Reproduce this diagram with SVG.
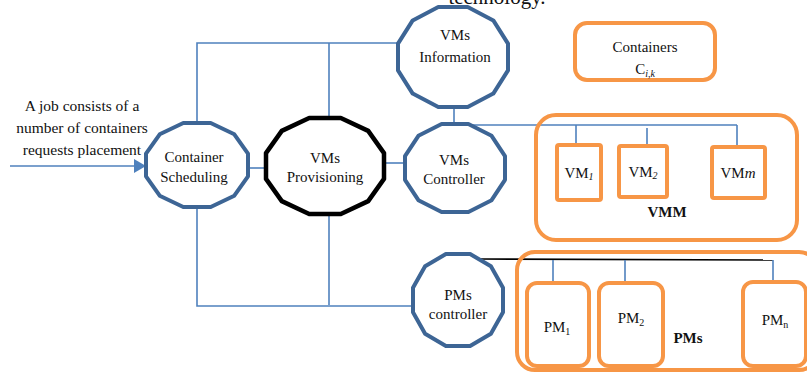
<svg xmlns="http://www.w3.org/2000/svg" width="807" height="372" viewBox="0 0 807 372">
<style>
  text { font-family: "Liberation Serif", "Times New Roman", serif; fill: #111; }
  .lbl { font-size: 15px; text-anchor: middle; }
  .oct { fill: #fff; stroke: #3d6595; stroke-width: 4; stroke-linejoin: round; }
  .octk { fill: #fff; stroke: #000; stroke-width: 4.5; stroke-linejoin: round; }
  .conn { fill: none; stroke: #4f81bd; stroke-width: 1.6; }
  .blk { fill: none; stroke: #000; stroke-width: 1.6; }
  .obox { fill: none; stroke: #f79646; stroke-width: 4; }
  .bold { font-weight: bold; }
  .sub { font-size: 10px; }
</style>
<defs>
  <marker id="arr" viewBox="0 0 12 14" refX="12" refY="7" markerWidth="12" markerHeight="14" markerUnits="userSpaceOnUse" orient="auto">
    <path d="M0,0 L12,7 L0,14 Z" fill="#4f81bd"/>
  </marker>
</defs>
<rect width="807" height="372" fill="#fff"/>
<text x="497" y="4" style="font-size:21px;text-anchor:middle">technology.</text>

<g id="connectors">
  <line class="conn" x1="10" y1="166" x2="146" y2="166" marker-end="url(#arr)"/>
  <polyline class="conn" points="197,123 197,43 398,43"/>
  <line class="conn" x1="329" y1="43" x2="329" y2="118"/>
  <line class="conn" x1="248" y1="168" x2="266" y2="168"/>
  <line class="conn" x1="384" y1="163" x2="405" y2="163"/>
  <line class="conn" x1="454" y1="107" x2="454" y2="124"/>
  <polyline class="conn" points="197,207 197,306 413,306"/>
  <line class="conn" x1="329" y1="214" x2="329" y2="305"/>
  <line class="conn" x1="455" y1="125" x2="737" y2="125"/>
  <line class="conn" x1="576" y1="125" x2="576" y2="145"/>
  <line class="conn" x1="647" y1="128" x2="647" y2="146"/>
  <line class="conn" x1="737" y1="125" x2="737" y2="147"/>
  <line class="blk" x1="480" y1="259" x2="773" y2="260"/>
  <line class="conn" x1="553" y1="260" x2="553" y2="283"/>
  <line class="conn" x1="625" y1="260" x2="625" y2="283"/>
  <line class="conn" x1="773" y1="260" x2="773" y2="282"/>
</g>

<g id="job-text">
  <text class="lbl" x="82" y="111" style="font-size:15.5px">A job consists of a</text>
  <text class="lbl" x="82" y="133" style="font-size:15.5px">number of containers</text>
  <text class="lbl" x="82" y="155" style="font-size:15.5px">requests placement</text>
</g>

<g id="container-scheduling">
  <polygon class="oct" points="248,176.3 234.3,195.7 210.7,207 183.3,207 159.7,195.7 146,176.3 146,153.7 159.7,134.3 183.3,123 210.7,123 234.3,134.3 248,153.7"/>
  <text class="lbl" x="194" y="162">Container</text>
  <text class="lbl" x="194" y="182">Scheduling</text>
</g>

<g id="vms-provisioning">
  <polygon class="octk" points="384,178.9 368.2,201.1 340.8,214 309.2,214 281.8,201.1 266,178.9 266,153.1 281.8,130.9 309.2,118 340.8,118 368.2,130.9 384,153.1"/>
  <text class="lbl" x="325" y="163">VMs</text>
  <text class="lbl" x="325" y="182">Provisioning</text>
</g>

<g id="vms-information">
  <polygon class="oct" points="508,70.4 493.3,93.6 467.7,107 438.3,107 412.7,93.6 398,70.4 398,43.6 412.7,20.4 438.3,7 467.7,7 493.3,20.4 508,43.6"/>
  <text class="lbl" x="455" y="40">VMs</text>
  <text class="lbl" x="455" y="62">Information</text>
</g>

<g id="vms-controller">
  <polygon class="oct" points="505,179.8 491.6,200.2 468.4,212 441.6,212 418.4,200.2 405,179.8 405,156.2 418.4,135.8 441.6,124 468.4,124 491.6,135.8 505,156.2"/>
  <text class="lbl" x="454" y="165">VMs</text>
  <text class="lbl" x="454" y="184">Controller</text>
</g>

<g id="pms-controller">
  <polygon class="oct" points="503,312.3 490.9,333.7 470.1,346 445.9,346 425.1,333.7 413,312.3 413,287.7 425.1,266.3 445.9,254 470.1,254 490.9,266.3 503,287.7"/>
  <text class="lbl" x="458" y="300">PMs</text>
  <text class="lbl" x="458" y="319">controller</text>
</g>

<g id="containers">
  <rect class="obox" x="575" y="23" width="140" height="57" rx="12"/>
  <text class="lbl" x="645" y="52">Containers</text>
  <text class="lbl" x="645" y="74">C<tspan class="sub" dy="3" font-style="italic">i,k</tspan></text>
</g>

<g id="vmm">
  <rect class="obox" x="536" y="115" width="261" height="125" rx="20"/>
  <text class="lbl bold" x="667" y="217">VMM</text>
</g>
<g id="vm1">
  <rect class="obox" x="557" y="145" width="44" height="55" rx="2"/>
  <text class="lbl" x="579" y="178">VM<tspan class="sub" font-style="italic" dy="2">1</tspan></text>
</g>
<g id="vm2">
  <rect class="obox" x="619" y="146" width="48" height="51" rx="2"/>
  <text class="lbl" x="643" y="177">VM<tspan class="sub" font-style="italic" dy="2">2</tspan></text>
</g>
<g id="vmm-node">
  <rect class="obox" x="712" y="147" width="53" height="51" rx="2"/>
  <text class="lbl" x="738" y="178">VM<tspan font-style="italic">m</tspan></text>
</g>

<g id="pms">
  <rect class="obox" x="517" y="252" width="300" height="118" rx="18"/>
  <text class="lbl bold" x="688" y="343">PMs</text>
</g>
<g id="pm1">
  <rect class="obox" x="527" y="283" width="62" height="83" rx="10"/>
  <text class="lbl" x="557" y="332">PM<tspan class="sub" dy="3">1</tspan></text>
</g>
<g id="pm2">
  <rect class="obox" x="599" y="283" width="64" height="83" rx="10"/>
  <text class="lbl" x="631" y="323">PM<tspan class="sub" dy="3">2</tspan></text>
</g>
<g id="pmn">
  <rect class="obox" x="743" y="282" width="63" height="84" rx="10"/>
  <text class="lbl" x="775" y="325">PM<tspan class="sub" dy="3">n</tspan></text>
</g>
</svg>
